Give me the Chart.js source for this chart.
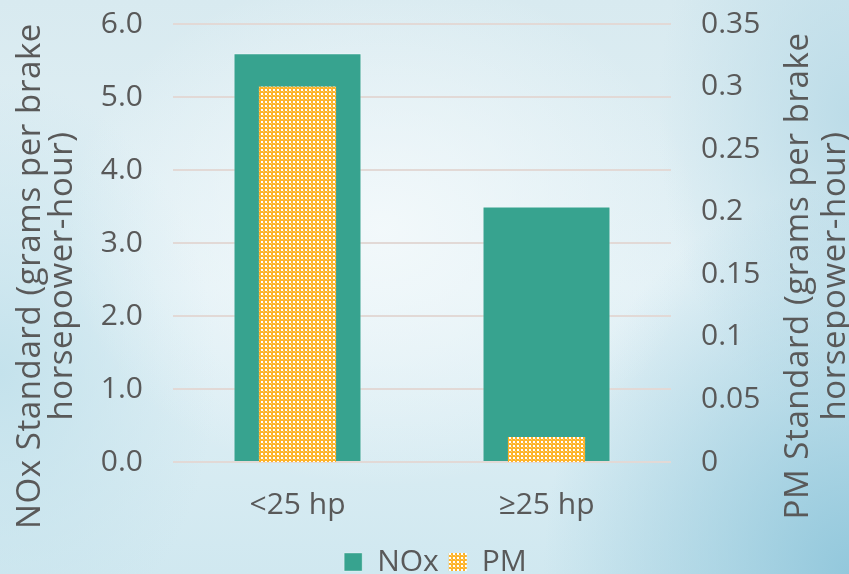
<!DOCTYPE html>
<html>
<head>
<meta charset="utf-8">
<script src="https://cdn.jsdelivr.net/npm/chart.js@4.4.1/dist/chart.umd.min.js"></script>
<style>
html, body { margin: 0; padding: 0; }
body {
  width: 849px; height: 574px; overflow: hidden;
  background:
    radial-gradient(ellipse 50% 60% at 45% 40%, rgba(243,249,251,0.95), rgba(243,249,251,0) 75%),
    radial-gradient(ellipse 40% 75% at 100% 100%, #93c8dc, rgba(147,200,220,0) 90%),
    radial-gradient(ellipse 25% 60% at 100% 20%, #bcdce8, rgba(188,220,232,0) 90%),
    radial-gradient(ellipse 30% 60% at 0% 65%, #c4e2ec, rgba(196,226,236,0) 85%),
    linear-gradient(180deg, #d8eaf0 0%, #e3f1f6 50%, #d0e8f0 100%);
}
#wrap { position: relative; width: 849px; height: 574px; }
canvas { display: block; }
</style>
</head>
<body>
<div id="wrap"><canvas id="chart" width="849" height="574"></canvas></div>
<script>
// ---- data ----
const categories = ['<25 hp', '\u226525 hp'];
const noxValues = [5.6, 3.5];
const pmValues = [0.3, 0.02];
const noxTickLabels = ['0.0', '1.0', '2.0', '3.0', '4.0', '5.0', '6.0'];
const pmTickLabels = ['0', '0.05', '0.1', '0.15', '0.2', '0.25', '0.3', '0.35'];
const leftTitle = ['NOx Standard (grams per brake', 'horsepower-hour)'];
const rightTitle = ['PM Standard (grams per brake', 'horsepower-hour)'];
const seriesNames = ['NOx', 'PM'];

// ---- styles ----
const GREEN = '#37a38f';
const TEXT = '#595959';
const FONT = "'Open Sans', sans-serif";

function makePattern() {
  const c = document.createElement('canvas');
  c.width = 4; c.height = 4;
  const x = c.getContext('2d');
  x.fillStyle = '#fdb42b';
  x.fillRect(0, 0, 4, 4);
  x.fillStyle = '#ffffff';
  x.fillRect(1, 1, 2, 2);
  x.fillStyle = 'rgba(255,255,255,0.35)';
  x.fillRect(3, 3, 1, 1);
  return document.getElementById('chart').getContext('2d').createPattern(c, 'repeat');
}
const pmPattern = makePattern();

const titlePlugin = {
  id: 'sideTitles',
  afterLayout(chart) {
    const lg = chart.legend;
    if (lg) {
      lg.top += 13; lg.bottom += 13;
      lg.left += 11; lg.right += 11;
    }
  },
  afterDraw(chart) {
    const ctx = chart.ctx;
    const cy = 276;
    ctx.save();
    ctx.fillStyle = TEXT;
    ctx.font = "33px " + FONT;
    try { ctx.letterSpacing = '0.6px'; } catch (e) {}
    ctx.textAlign = 'center';
    ctx.textBaseline = 'alphabetic';
    const draw = (txt, x) => {
      ctx.save();
      ctx.translate(x, cy);
      ctx.rotate(-Math.PI / 2);
      ctx.fillText(txt, 0, 0);
      ctx.restore();
    };
    draw(leftTitle[0], 40);
    draw(leftTitle[1], 72);
    draw(rightTitle[0], 808);
    draw(rightTitle[1], 845);
    ctx.restore();
  }
};

function fitY(width) {
  return (s) => { s.width = width; s.paddingTop = 18; s.paddingBottom = 18; };
}

new Chart(document.getElementById('chart'), {
  type: 'bar',
  data: {
    labels: categories,
    datasets: [
      {
        label: seriesNames[0],
        data: noxValues,
        backgroundColor: GREEN,
        borderColor: 'rgba(255,255,255,0.35)',
        borderWidth: 1,
        yAxisID: 'y',
        barPercentage: 0.514,
        categoryPercentage: 1,
        grouped: false,
        order: 2
      },
      {
        label: seriesNames[1],
        data: pmValues,
        backgroundColor: pmPattern,
        borderWidth: 0,
        yAxisID: 'y1',
        barPercentage: 0.31,
        categoryPercentage: 1,
        grouped: false,
        order: 1
      }
    ]
  },
  options: {
    responsive: false,
    animation: false,
    layout: { padding: { top: 24, bottom: 0, left: 0, right: 0 } },
    plugins: {
      legend: {
        position: 'bottom',
        labels: {
          font: { family: FONT, size: 30 },
          color: TEXT,
          boxWidth: 18,
          boxHeight: 18,
          padding: 10,
          sort: (a, b) => a.datasetIndex - b.datasetIndex
        }
      },
      tooltip: { enabled: false }
    },
    scales: {
      x: {
        grid: { display: false, drawTicks: false },
        border: { display: false },
        ticks: { font: { family: FONT, size: 30 }, color: TEXT, padding: 25 },
        afterFit(s) { s.height = 62; }
      },
      y: {
        position: 'left',
        min: 0, max: 6,
        ticks: {
          stepSize: 1,
          font: { family: FONT, size: 30 },
          color: TEXT,
          padding: 30,
          callback: (v, i) => noxTickLabels[i]
        },
        grid: { color: '#e2d9d6', lineWidth: 2, drawTicks: false },
        border: { display: false },
        afterFit: fitY(173)
      },
      y1: {
        position: 'right',
        min: 0, max: 0.35,
        ticks: {
          stepSize: 0.05,
          font: { family: FONT, size: 30 },
          color: TEXT,
          padding: 30,
          callback: (v, i) => pmTickLabels[i]
        },
        grid: { display: false, drawTicks: false },
        border: { display: false },
        afterFit: fitY(178)
      }
    }
  },
  plugins: [titlePlugin]
});
</script>
</body>
</html>
